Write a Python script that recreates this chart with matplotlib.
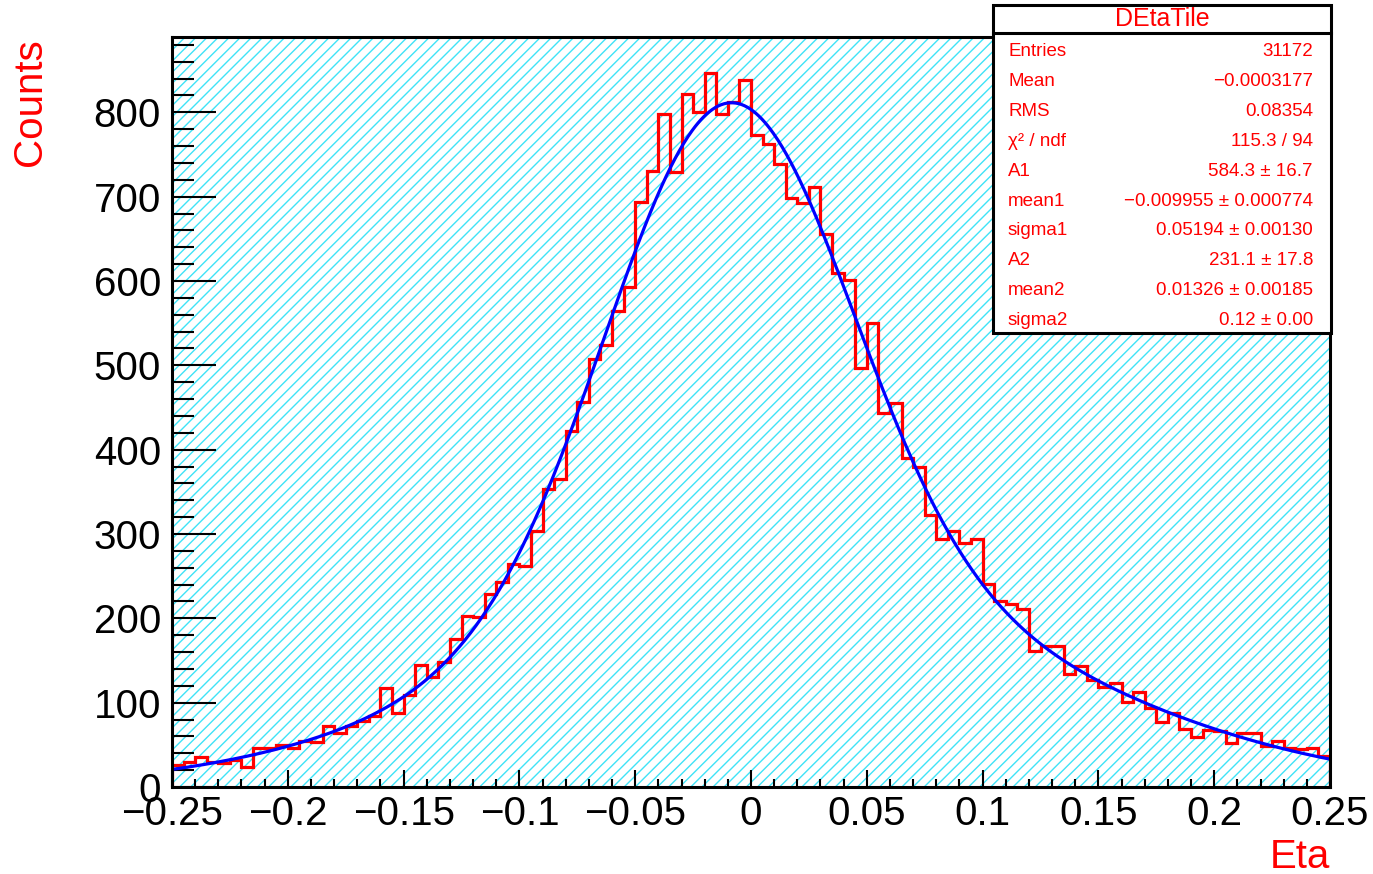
import numpy as np
import matplotlib.pyplot as plt
from matplotlib.patches import Rectangle
from matplotlib.lines import Line2D
from matplotlib.ticker import MultipleLocator, FuncFormatter

plt.rcParams['font.family'] = ['Liberation Sans', 'DejaVu Sans']
plt.rcParams['hatch.linewidth'] = 1.0

# histogram contents, 100 bins from -0.25 to 0.25
counts = [26, 30, 36, 30, 28, 32, 24, 46, 46, 50,
          46, 54, 53, 72, 64, 72, 78, 84, 117, 88,
          109, 145, 130, 148, 176, 203, 201, 229, 243, 264,
          262, 304, 353, 365, 422, 457, 507, 524, 564, 593,
          694, 731, 798, 729, 822, 800, 847, 798, 812, 838,
          773, 763, 739, 698, 693, 711, 656, 609, 601, 497,
          550, 444, 455, 390, 379, 322, 294, 304, 289, 294,
          241, 221, 217, 211, 161, 167, 167, 134, 144, 127,
          118, 123, 101, 113, 94, 77, 88, 69, 59, 67,
          66, 52, 64, 64, 49, 55, 46, 45, 46, 37]
x_lo, x_hi = -0.25, 0.25

# double gaussian fit parameters from the stats box
A1, MEAN1, SIGMA1 = 584.3, -0.009955, 0.05194
A2, MEAN2, SIGMA2 = 231.1, 0.01326, 0.12

stat_names = ['Entries', 'Mean', 'RMS', 'χ² / ndf', 'A1', 'mean1', 'sigma1',
              'A2', 'mean2', 'sigma2']
stat_values = ['31172', '\u22120.0003177', '0.08354', '115.3 / 94', '584.3 ± 16.7',
               '\u22120.009955 ± 0.000774', '0.05194 ± 0.00130', '231.1 ± 17.8',
               '0.01326 ± 0.00185', '0.12 ± 0.00']

W, H = 1373, 874
fig = plt.figure(figsize=(W / 100, H / 100), dpi=100)


def fx(px):
    return px / W


def fy(py):
    return 1 - py / H


ax = fig.add_axes([fx(172), fy(787), fx(1330) - fx(172), fy(37) - fy(787)])

# hatched cyan frame fill
bg = Rectangle((0, 0), 1, 1, transform=ax.transAxes, facecolor='white',
               edgecolor='#3fe3f7', hatch='///', lw=0, zorder=0)
ax.add_patch(bg)

edges = np.linspace(x_lo, x_hi, len(counts) + 1)
ax.stairs(counts, edges, color='red', lw=2.3, baseline=0, zorder=3)

xs = np.linspace(x_lo, x_hi, 800)
fit = (A1 * np.exp(-0.5 * ((xs - MEAN1) / SIGMA1) ** 2)
       + A2 * np.exp(-0.5 * ((xs - MEAN2) / SIGMA2) ** 2))
ax.plot(xs, fit, color='blue', lw=2.3, zorder=4)

ax.set_xlim(x_lo, x_hi)
ax.set_ylim(0, 1.05 * max(counts))

ax.xaxis.set_major_locator(MultipleLocator(0.05))
ax.xaxis.set_minor_locator(MultipleLocator(0.01))
ax.yaxis.set_major_locator(MultipleLocator(100))
ax.yaxis.set_minor_locator(MultipleLocator(20))


def fmt_x(v, pos):
    v = round(v, 3)
    if abs(v) < 1e-9:
        return '0'
    return f'{v:g}'.replace('-', '\u2212')


ax.xaxis.set_major_formatter(FuncFormatter(fmt_x))

ax.tick_params(which='both', direction='in', top=False, right=False)
ax.tick_params(axis='y', which='major', length=32, width=1.5, labelsize=29, pad=8)
ax.tick_params(axis='y', which='minor', length=16, width=1.5)
ax.tick_params(axis='x', which='major', length=12, width=1.5, labelsize=29, pad=6)
ax.tick_params(axis='x', which='minor', length=6, width=1.5)
for s in ax.spines.values():
    s.set_linewidth(2.2)
    s.set_zorder(5)

fig.text(fx(30), fy(38), 'Counts', rotation=90, ha='center', va='top',
         color='red', fontsize=29)
fig.text(fx(1330), fy(857), 'Eta', ha='right', va='center', color='red', fontsize=29)

# stats box
fig.add_artist(Rectangle((fx(993), fy(333)), fx(1331) - fx(993), fy(5) - fy(333),
                         transform=fig.transFigure, facecolor='white',
                         edgecolor='black', lw=2.2, zorder=10))
fig.add_artist(Line2D([fx(993), fx(1331)], [fy(33), fy(33)], color='black',
                      lw=2.2, transform=fig.transFigure, zorder=10))
fig.text(fx(1162), fy(19), 'DEtaTile', ha='center', va='center', fontsize=18,
         color='red', zorder=11)
for i, (name, val) in enumerate(zip(stat_names, stat_values)):
    yy = fy(52 + 29.8 * i)
    fig.text(fx(1008), yy, name, ha='left', va='center', fontsize=13.5,
             color='red', zorder=11)
    fig.text(fx(1313), yy, val, ha='right', va='center', fontsize=13.5,
             color='red', zorder=11)

fig.savefig('out.png', dpi=100)
